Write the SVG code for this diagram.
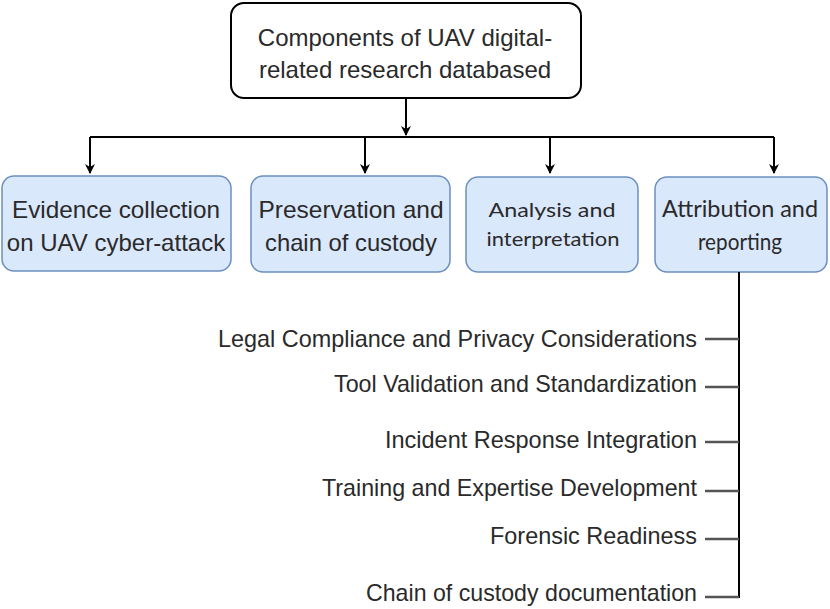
<svg xmlns="http://www.w3.org/2000/svg" width="830" height="609" viewBox="0 0 830 609">
<style>
.t{font-family:"Liberation Sans",Arial,sans-serif;fill:#2a2a2a;text-anchor:middle}
.c{font-family:Lato,"Open Sans","Liberation Sans",sans-serif;fill:#2a2a2a;text-anchor:middle}
.l{font-family:"Liberation Sans",Arial,sans-serif;fill:#2a2a2a;text-anchor:end;font-size:24px}
.blue{fill:#dae8fc;stroke:#6c8ebf;stroke-width:1.5}
.conn{fill:none;stroke:#000;stroke-width:2}
.tick{fill:none;stroke:#555;stroke-width:2.5}
</style>
<defs>
<marker id="ah" markerWidth="10" markerHeight="10" refX="9" refY="5" orient="auto" markerUnits="userSpaceOnUse">
<path d="M0,0 L10,5 L0,10 L3,5 Z" fill="#000"/>
</marker>
</defs>
<g id="root">
<rect x="231" y="3" width="350" height="95" rx="13" fill="#fff" stroke="#000" stroke-width="2"/>
<text class="t" font-size="24" x="405" y="46">Components of UAV digital-</text>
<text class="t" font-size="24" x="405" y="78">related research databased</text>
</g>
<g id="n1">
<rect class="blue" x="2" y="176" width="229" height="95" rx="12"/>
<text class="t" font-size="24" x="116" y="218" textLength="208" lengthAdjust="spacingAndGlyphs">Evidence collection</text>
<text class="t" font-size="24" x="116" y="251">on UAV cyber-attack</text>
</g>
<g id="n2">
<rect class="blue" x="251" y="176" width="199" height="96" rx="12"/>
<text class="t" font-size="24" x="351" y="218" textLength="185" lengthAdjust="spacingAndGlyphs">Preservation and</text>
<text class="t" font-size="24" x="351" y="251" textLength="172" lengthAdjust="spacingAndGlyphs">chain of custody</text>
</g>
<g id="n3">
<rect class="blue" x="466" y="177" width="172" height="95" rx="12"/>
<text class="c" font-size="20" x="552" y="217" textLength="127" lengthAdjust="spacingAndGlyphs">Analysis and</text>
<text class="c" font-size="20" x="553" y="246" textLength="133" lengthAdjust="spacingAndGlyphs">interpretation</text>
</g>
<g id="n4">
<rect class="blue" x="655" y="177" width="172" height="95" rx="12"/>
<text class="c" font-size="23" x="740" y="217" textLength="156" lengthAdjust="spacingAndGlyphs">Attribution and</text>
<text class="c" font-size="23" x="740" y="250" textLength="84" lengthAdjust="spacingAndGlyphs">reporting</text>
</g>
<g id="connectors">
<line class="conn" x1="406" y1="98" x2="406" y2="135" marker-end="url(#ah)"/>
<line class="conn" x1="90" y1="137" x2="774" y2="137"/>
<line class="conn" x1="90" y1="137" x2="90" y2="173" marker-end="url(#ah)"/>
<line class="conn" x1="365" y1="137" x2="365" y2="173" marker-end="url(#ah)"/>
<line class="conn" x1="550" y1="137" x2="550" y2="173" marker-end="url(#ah)"/>
<line class="conn" x1="774" y1="137" x2="774" y2="173" marker-end="url(#ah)"/>
<line class="conn" x1="739" y1="272" x2="739" y2="598"/>
<line class="tick" x1="705" y1="339" x2="739" y2="339"/>
<line class="tick" x1="705" y1="387" x2="739" y2="387"/>
<line class="tick" x1="705" y1="442" x2="739" y2="442"/>
<line class="tick" x1="705" y1="491" x2="739" y2="491"/>
<line class="tick" x1="705" y1="539" x2="739" y2="539"/>
<line class="tick" x1="705" y1="597" x2="739" y2="597"/>
</g>
<g id="items">
<text class="l" x="697" y="347" textLength="479" lengthAdjust="spacingAndGlyphs">Legal Compliance and Privacy Considerations</text>
<text class="l" x="697" y="392" textLength="363" lengthAdjust="spacingAndGlyphs">Tool Validation and Standardization</text>
<text class="l" x="697" y="448" textLength="312" lengthAdjust="spacingAndGlyphs">Incident Response Integration</text>
<text class="l" x="697" y="496" textLength="375" lengthAdjust="spacingAndGlyphs">Training and Expertise Development</text>
<text class="l" x="697" y="544" textLength="207" lengthAdjust="spacingAndGlyphs">Forensic Readiness</text>
<text class="l" x="697" y="601" textLength="331" lengthAdjust="spacingAndGlyphs">Chain of custody documentation</text>
</g>
</svg>
